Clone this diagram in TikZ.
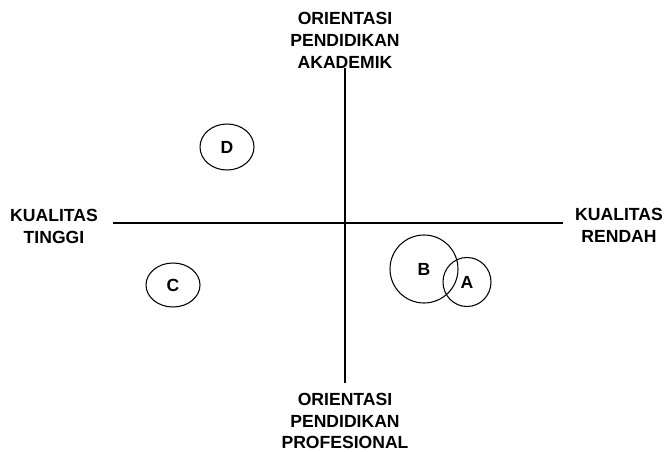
\documentclass[tikz,border=0pt]{standalone}
\usepackage{fontspec}
\setmainfont{Liberation Sans}
\usetikzlibrary{shapes.geometric}

\begin{document}
\begin{tikzpicture}
        \tikzstyle{label}=[align=center, font=\fontsize{15}{18.7}\selectfont\bfseries];
        \tikzstyle{group}=[draw, ellipse, line width=0.9pt, inner sep=0pt, font=\fontsize{15}{17}\selectfont\bfseries];
        \tikzstyle{axis}=[line width=1.5pt];

        \useasboundingbox (0,0) rectangle (19.98,13.53);

        % labels of the four ends
        \node[label] (akademik) at (10.35,12.33) {ORIENTASI\\PENDIDIKAN\\AKADEMIK};
        \node[label] (profesional) at (10.35,0.9) {ORIENTASI\\PENDIDIKAN\\PROFESIONAL};
        \node[label] (tinggi) at (1.62,6.75) {KUALITAS\\TINGGI};
        \node[label] (rendah) at (18.57,6.78) {KUALITAS\\RENDAH};

        % axes
        \coordinate (top) at (10.35,11.49);
        \coordinate (bottom) at (10.35,2.04);
        \coordinate (left) at (3.39,6.84);
        \coordinate (right) at (16.89,6.84);
        \draw[axis] (top) -- (bottom);
        \draw[axis] (left) -- (right);

        % groups
        \node[group, minimum width=1.62cm, minimum height=1.38cm] (d) at (6.81,9.12) {D};
        \node[group, minimum width=1.62cm, minimum height=1.32cm] (c) at (5.19,4.98) {C};
        \node[group, minimum width=2.04cm, minimum height=2.04cm] (b) at (12.72,5.46) {B};
        \node[group, minimum width=1.44cm, minimum height=1.47cm] (a) at (14.01,5.07) {A};
    \end{tikzpicture}
\end{document}
